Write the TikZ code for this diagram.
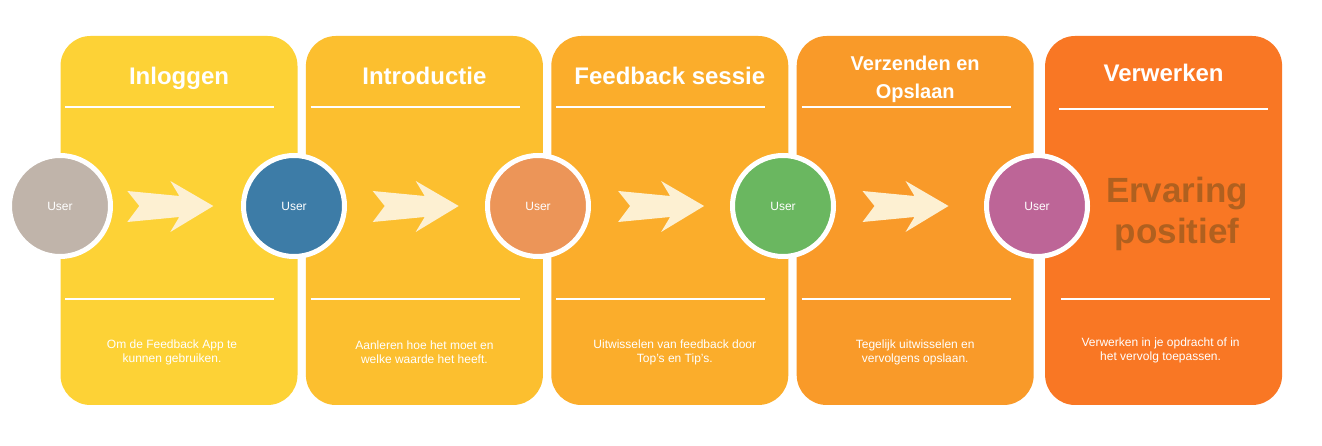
\documentclass[tikz,border=0pt]{standalone}
\usepackage{fontspec}
\setmainfont{Liberation Sans}
\usetikzlibrary{positioning}
\definecolor{stepone}{HTML}{FDD236}
\definecolor{steptwo}{HTML}{FCBF2F}
\definecolor{stepthree}{HTML}{FBAD2B}
\definecolor{stepfour}{HTML}{F99A29}
\definecolor{stepfive}{HTML}{F97724}
\definecolor{usergrey}{HTML}{C0B4AA}
\definecolor{userblue}{HTML}{3D7CA7}
\definecolor{userorange}{HTML}{EC9558}
\definecolor{usergreen}{HTML}{6AB760}
\definecolor{userpurple}{HTML}{BD6597}
\definecolor{arrowfill}{HTML}{FDF0D2}
\definecolor{bigtext}{HTML}{B0601F}
\tikzset{
  panel/.style={rectangle,rounded corners=30pt,minimum width=237pt,minimum height=369pt,inner sep=0pt},
  user/.style={shape=circle,minimum size=101pt,inner sep=0pt,draw=white,line width=5pt,text=white,font=\fontsize{12}{14}\selectfont},
  title/.style={text=white,font=\bfseries\fontsize{24}{28}\selectfont,align=center},
  info/.style={text=white,font=\fontsize{12}{14}\selectfont,align=center},
  divider/.style={draw=white,line width=1.5pt},
  chevron/.pic={\fill[arrowfill] (0,15) -- (52,10) -- (43,25) -- (86,0) -- (43,-26) -- (52,-11) -- (0,-16) -- (12,0) -- cycle;}
}
\begin{document}
\begin{tikzpicture}[x=1pt,y=1pt,node distance=8pt and 8pt]
      \useasboundingbox[fill=white] (0,0) rectangle (1322,446);
      \node[panel,fill=stepone] at (179,225.5) (p1) {};
      \node[panel,fill=steptwo,right=of p1] (p2) {};
      \node[panel,fill=stepthree,right=of p2] (p3) {};
      \node[panel,fill=stepfour,right=of p3] (p4) {};
      \node[panel,fill=stepfive,right=11pt of p4] (p5) {};
      % titels
      \node[title,anchor=base] at ([yshift=-49pt]p1.north) (t1) {Inloggen};
      \node[title,anchor=base] at ([yshift=-49pt]p2.north) (t2) {Introductie};
      \node[title,anchor=base] at ([yshift=-49pt]p3.north) (t3) {Feedback sessie};
      \node[title,font=\bfseries\fontsize{20}{28}\selectfont] at ([yshift=-44pt]p4.north) (t4) {Verzenden en\\Opslaan};
      \node[title,anchor=base] at ([yshift=-46pt]p5.north) (t5) {Verwerken};
      % lijnen
      \draw[divider] ([xshift=5pt,yshift=-71pt]p1.north west) -- ++(209,0);
      \draw[divider] ([xshift=5pt,yshift=-71pt]p2.north west) -- ++(209,0);
      \draw[divider] ([xshift=5pt,yshift=-71pt]p3.north west) -- ++(209,0);
      \draw[divider] ([xshift=5pt,yshift=-71pt]p4.north west) -- ++(209,0);
      \draw[divider] ([xshift=14pt,yshift=-73pt]p5.north west) -- ++(209,0);
      \draw[divider] ([xshift=5pt,yshift=106pt]p1.south west) -- ++(209,0);
      \draw[divider] ([xshift=5pt,yshift=106pt]p2.south west) -- ++(209,0);
      \draw[divider] ([xshift=5pt,yshift=106pt]p3.south west) -- ++(209,0);
      \draw[divider] ([xshift=5pt,yshift=106pt]p4.south west) -- ++(209,0);
      \draw[divider] ([xshift=16pt,yshift=106pt]p5.south west) -- ++(209,0);
      % pijlen
      \pic at ([xshift=67pt,yshift=14.5pt]p1.west) {chevron};
      \pic at ([xshift=67pt,yshift=14.5pt]p2.west) {chevron};
      \pic at ([xshift=67pt,yshift=14.5pt]p3.west) {chevron};
      \pic at ([xshift=66pt,yshift=14.5pt]p4.west) {chevron};
      % users
      \node[user,fill=usergrey] at (60,240) (u1) {User};
      \node[user,fill=userblue] at (294,240) (u2) {User};
      \node[user,fill=userorange] at (538,240) (u3) {User};
      \node[user,fill=usergreen] at (783,240) (u4) {User};
      \node[user,fill=userpurple] at (1037,240) (u5) {User};
      \node[text=bigtext,font=\bfseries\fontsize{35}{41}\selectfont,align=center] at (1177,232) (e5) {Ervaring\\positief};
      % beschrijving
      \node[info] at ([xshift=-7pt,yshift=53pt]p1.south) (d1) {Om de Feedback App te\\kunnen gebruiken.};
      \node[info] at ([yshift=53pt]p2.south) (d2) {Aanleren hoe het moet en\\welke waarde het heeft.};
      \node[info] at ([xshift=5pt,yshift=53pt]p3.south) (d3) {Uitwisselen van feedback door\\Top's en Tip's.};
      \node[info] at ([yshift=53pt]p4.south) (d4) {Tegelijk uitwisselen en\\vervolgens opslaan.};
      \node[info] at ([xshift=-3pt,yshift=55pt]p5.south) (d5) {Verwerken in je opdracht of in\\het vervolg toepassen.};
    \end{tikzpicture}
\end{document}
